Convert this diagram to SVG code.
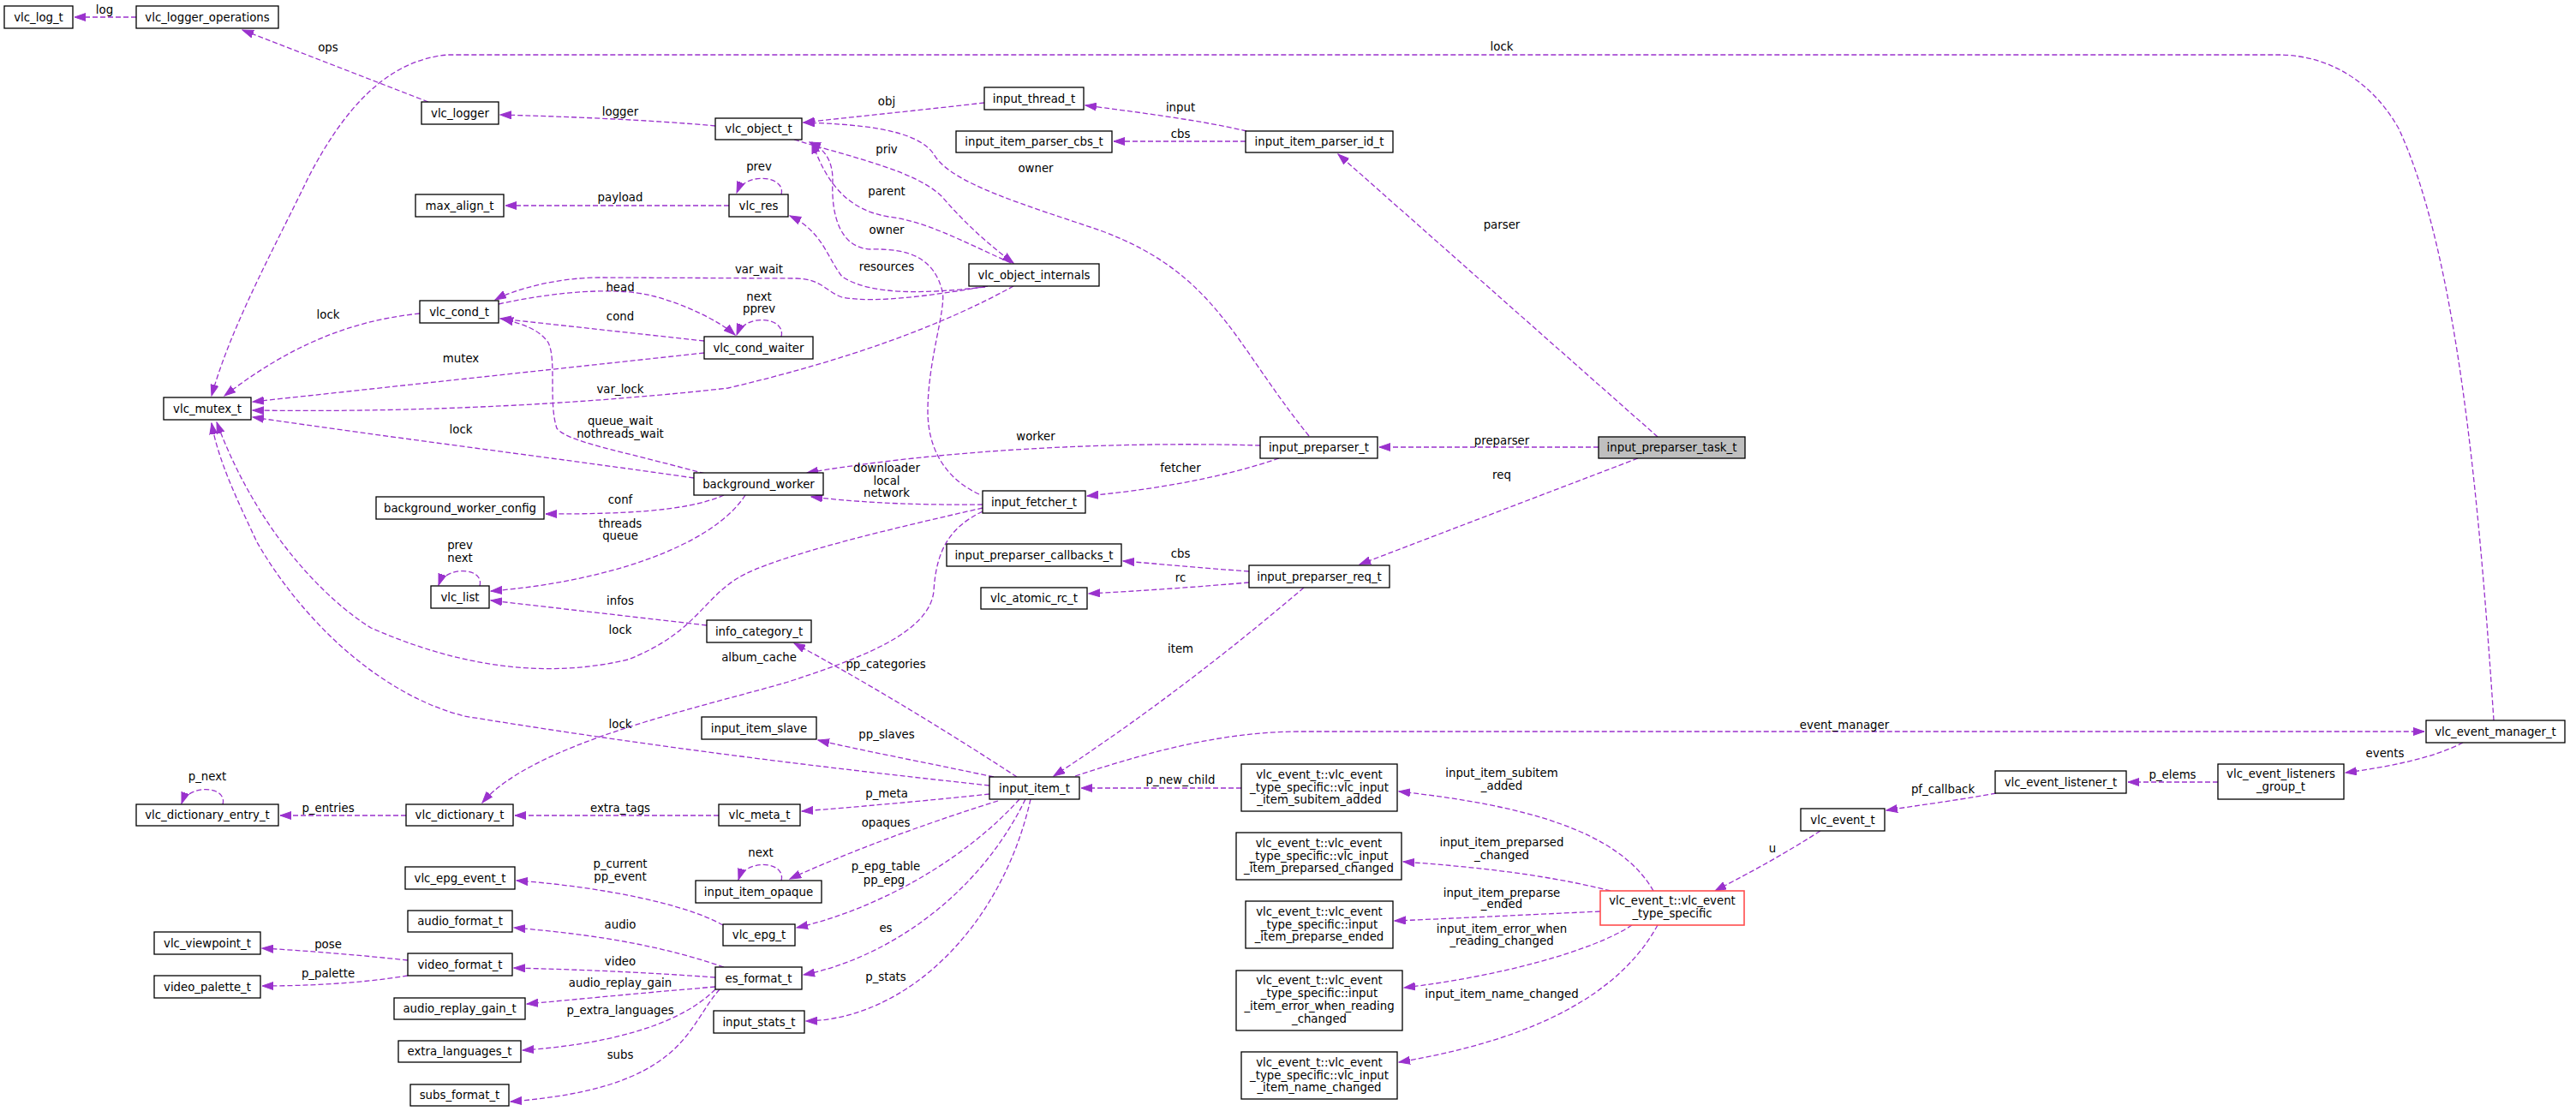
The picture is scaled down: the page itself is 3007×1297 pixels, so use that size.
<svg xmlns="http://www.w3.org/2000/svg" width="3007" height="1297" viewBox="0 0 3007 1297">
<style>
.n rect{fill:#fff;stroke:#000;stroke-width:1.3}
.n text,.l{font-family:"DejaVu Sans",sans-serif;font-size:13.3px;fill:#000;text-anchor:middle}
#edges path{fill:none;stroke:#9a32cd;stroke-width:1.3;stroke-dasharray:6,3;marker-end:url(#a)}
</style>
<defs><marker id="a" markerUnits="userSpaceOnUse" markerWidth="14" markerHeight="10" refX="13" refY="5" orient="auto"><path d="M0,0.5 L13,5 L0,9.5 z" fill="#9a32cd" stroke="#9a32cd"/></marker></defs>
<rect width="3007" height="1297" fill="#fff"/>
<g id="edges">
<path d="M159,20 L87,20"/>
<path d="M500,119 L283,35"/>
<path d="M835,147 C760,140 660,136 584,134"/>
<path d="M851,240 L590,240"/>
<path d="M912,227 C918,205 870,200 860,225"/>
<path d="M1153,334 C1100,343 1023,355 983,347 C963,340 960,326 930,325 L700,324 C650,324 600,338 578,350"/>
<path d="M582,355 C650,340 720,335 760,345 C800,355 840,375 858,391"/>
<path d="M912,393 C918,370 870,365 860,391"/>
<path d="M822,398 L584,372"/>
<path d="M490,366 C400,375 330,410 262,462"/>
<path d="M822,412 L295,469"/>
<path d="M1183,334 C1100,380 990,420 850,453 C700,470 500,482 295,479"/>
<path d="M810,558 C650,535 450,510 295,487"/>
<path d="M823,553 C720,525 663,516 650,500 C640,470 650,420 640,400 C630,385 610,378 586,372"/>
<path d="M845,578 C800,598 720,600 637,600"/>
<path d="M870,578 C830,640 700,680 573,690"/>
<path d="M2911,841 C2895,600 2870,300 2800,150 C2760,80 2700,64 2660,64 L523,64 C450,70 400,130 360,207 C320,290 270,380 247,462"/>
<path d="M1149,120 C1080,128 1000,136 938,143"/>
<path d="M1455,153 C1400,140 1320,130 1267,123"/>
<path d="M1454,165 L1300,165"/>
<path d="M1528,509 C1440,400 1420,320 1287,270 C1200,240 1110,215 1090,180 C1070,150 1000,145 938,143"/>
<path d="M1935,510 L1562,180"/>
<path d="M927,163 C1000,185 1070,200 1100,230 C1130,265 1160,290 1183,307"/>
<path d="M1180,307 C1120,280 1080,258 1037,253 C990,245 965,215 948,166"/>
<path d="M1143,577 C1100,557 1083,520 1083,480 C1083,420 1105,360 1100,340 C1090,300 1060,290 1017,291 C980,290 970,250 972,210 C972,185 960,172 945,166"/>
<path d="M1150,335 C1080,343 1017,345 983,323 C965,300 960,270 922,252"/>
<path d="M1471,520 C1300,515 1100,525 942,552"/>
<path d="M1147,589 C1050,590 990,585 947,580"/>
<path d="M1493,535 C1420,560 1340,572 1269,579"/>
<path d="M1866,522 L1610,522"/>
<path d="M1912,535 L1587,659"/>
<path d="M1147,593 C1050,615 900,650 861,675 C820,700 810,740 733,770 C640,792 540,780 433,733 C380,700 300,620 253,493"/>
<path d="M1155,917 C950,895 750,870 542,836 C440,810 350,720 300,633 C280,590 255,540 247,494"/>
<path d="M1147,597 C1110,615 1093,640 1090,690 C1085,740 1000,770 917,797 C800,830 620,870 563,937"/>
<path d="M825,730 L573,701"/>
<path d="M560,684 C566,662 520,660 512,683"/>
<path d="M1187,907 C1100,850 1000,790 927,751"/>
<path d="M1160,907 C1080,890 1000,875 955,864"/>
<path d="M1155,927 C1080,935 1000,942 936,947"/>
<path d="M1165,935 C1100,955 1000,990 922,1026"/>
<path d="M1190,933 C1130,1000 1030,1060 930,1083"/>
<path d="M1197,933 C1140,1050 1030,1120 938,1138"/>
<path d="M1203,933 C1170,1080 1060,1190 941,1192"/>
<path d="M912,1028 C918,1005 870,1002 862,1027"/>
<path d="M1522,686 C1400,790 1300,860 1230,906"/>
<path d="M1458,667 C1400,663 1350,658 1311,655"/>
<path d="M1458,680 C1400,685 1330,690 1271,693"/>
<path d="M1449,920 L1262,920"/>
<path d="M1255,906 C1350,875 1430,854 1520,854 L2830,854"/>
<path d="M2875,867 C2840,885 2790,895 2738,902"/>
<path d="M2589,913 L2484,913"/>
<path d="M2330,926 C2280,935 2240,940 2202,946"/>
<path d="M2125,970 C2070,1005 2030,1025 2002,1040"/>
<path d="M1930,1040 C1890,970 1780,940 1633,924"/>
<path d="M1880,1040 C1800,1020 1720,1012 1638,1006"/>
<path d="M1868,1064 C1780,1068 1700,1072 1628,1075"/>
<path d="M1905,1080 C1860,1110 1750,1140 1639,1153"/>
<path d="M1935,1080 C1880,1180 1750,1220 1633,1240"/>
<path d="M474,952 L327,952"/>
<path d="M260,939 C266,917 220,915 212,938"/>
<path d="M839,952 L601,952"/>
<path d="M844,1080 C800,1055 700,1035 603,1028"/>
<path d="M845,1129 C760,1100 680,1090 600,1083"/>
<path d="M835,1141 C750,1135 680,1132 600,1130"/>
<path d="M835,1152 C740,1160 680,1166 615,1172"/>
<path d="M835,1155 C790,1200 700,1220 610,1226"/>
<path d="M840,1155 C800,1200 800,1270 596,1286"/>
<path d="M476,1121 C420,1115 360,1110 306,1107"/>
<path d="M476,1139 C420,1148 360,1151 306,1151"/>
</g>
<g id="labels">
<text class="l" x="122" y="16">log</text>
<text class="l" x="383" y="60">ops</text>
<text class="l" x="724" y="135">logger</text>
<text class="l" x="724" y="235">payload</text>
<text class="l" x="886" y="199">prev</text>
<text class="l" x="886" y="319">var_wait</text>
<text class="l" x="724" y="340">head</text>
<text class="l" x="886" y="351">next</text>
<text class="l" x="886" y="365">pprev</text>
<text class="l" x="724" y="374">cond</text>
<text class="l" x="383" y="372">lock</text>
<text class="l" x="538" y="423">mutex</text>
<text class="l" x="724" y="459">var_lock</text>
<text class="l" x="538" y="506">lock</text>
<text class="l" x="724" y="496">queue_wait</text>
<text class="l" x="724" y="511">nothreads_wait</text>
<text class="l" x="724" y="588">conf</text>
<text class="l" x="724" y="616">threads</text>
<text class="l" x="724" y="630">queue</text>
<text class="l" x="1753" y="59">lock</text>
<text class="l" x="1035" y="123">obj</text>
<text class="l" x="1378" y="130">input</text>
<text class="l" x="1378" y="161">cbs</text>
<text class="l" x="1209" y="201">owner</text>
<text class="l" x="1753" y="267">parser</text>
<text class="l" x="1035" y="179">priv</text>
<text class="l" x="1035" y="228">parent</text>
<text class="l" x="1035" y="273">owner</text>
<text class="l" x="1035" y="316">resources</text>
<text class="l" x="1209" y="514">worker</text>
<text class="l" x="1035" y="551">downloader</text>
<text class="l" x="1035" y="566">local</text>
<text class="l" x="1035" y="580">network</text>
<text class="l" x="1378" y="551">fetcher</text>
<text class="l" x="1753" y="519">preparser</text>
<text class="l" x="1753" y="559">req</text>
<text class="l" x="724" y="740">lock</text>
<text class="l" x="724" y="850">lock</text>
<text class="l" x="886" y="772">album_cache</text>
<text class="l" x="724" y="706">infos</text>
<text class="l" x="537" y="641">prev</text>
<text class="l" x="537" y="656">next</text>
<text class="l" x="1034" y="780">pp_categories</text>
<text class="l" x="1035" y="862">pp_slaves</text>
<text class="l" x="1035" y="931">p_meta</text>
<text class="l" x="1034" y="965">opaques</text>
<text class="l" x="1034" y="1016">p_epg_table</text>
<text class="l" x="1032" y="1032">pp_epg</text>
<text class="l" x="1034" y="1088">es</text>
<text class="l" x="1034" y="1145">p_stats</text>
<text class="l" x="888" y="1000">next</text>
<text class="l" x="1378" y="762">item</text>
<text class="l" x="1378" y="651">cbs</text>
<text class="l" x="1378" y="679">rc</text>
<text class="l" x="1378" y="915">p_new_child</text>
<text class="l" x="2153" y="851">event_manager</text>
<text class="l" x="2784" y="884">events</text>
<text class="l" x="2536" y="909">p_elems</text>
<text class="l" x="2268" y="926">pf_callback</text>
<text class="l" x="2069" y="995">u</text>
<text class="l" x="1753" y="907">input_item_subitem</text>
<text class="l" x="1753" y="922">_added</text>
<text class="l" x="1753" y="988">input_item_preparsed</text>
<text class="l" x="1753" y="1003">_changed</text>
<text class="l" x="1753" y="1047">input_item_preparse</text>
<text class="l" x="1753" y="1060">_ended</text>
<text class="l" x="1753" y="1089">input_item_error_when</text>
<text class="l" x="1753" y="1103">_reading_changed</text>
<text class="l" x="1753" y="1165">input_item_name_changed</text>
<text class="l" x="383" y="948">p_entries</text>
<text class="l" x="242" y="911">p_next</text>
<text class="l" x="724" y="948">extra_tags</text>
<text class="l" x="724" y="1013">p_current</text>
<text class="l" x="724" y="1028">pp_event</text>
<text class="l" x="724" y="1084">audio</text>
<text class="l" x="724" y="1127">video</text>
<text class="l" x="724" y="1152">audio_replay_gain</text>
<text class="l" x="724" y="1184">p_extra_languages</text>
<text class="l" x="724" y="1236">subs</text>
<text class="l" x="383" y="1107">pose</text>
<text class="l" x="383" y="1141">p_palette</text>
</g>
<g id="vlc_log_t" class="n"><rect x="5" y="7" width="80" height="26"/><text x="45" y="24.5">vlc_log_t</text></g>
<g id="vlc_logger_operations" class="n"><rect x="159" y="7" width="166" height="26"/><text x="242" y="24.5">vlc_logger_operations</text></g>
<g id="vlc_logger" class="n"><rect x="492" y="119" width="90" height="26"/><text x="537" y="136.5">vlc_logger</text></g>
<g id="vlc_object_t" class="n"><rect x="835" y="138" width="101" height="25"/><text x="885.5" y="155">vlc_object_t</text></g>
<g id="max_align_t" class="n"><rect x="485" y="227" width="103" height="26"/><text x="536.5" y="244.5">max_align_t</text></g>
<g id="vlc_res" class="n"><rect x="851" y="227" width="69" height="26"/><text x="885.5" y="244.5">vlc_res</text></g>
<g id="vlc_cond_t" class="n"><rect x="490" y="351" width="92" height="26"/><text x="536" y="368.5">vlc_cond_t</text></g>
<g id="vlc_cond_waiter" class="n"><rect x="822" y="393" width="127" height="26"/><text x="885.5" y="410.5">vlc_cond_waiter</text></g>
<g id="vlc_mutex_t" class="n"><rect x="191" y="464" width="102" height="26"/><text x="242" y="481.5">vlc_mutex_t</text></g>
<g id="background_worker" class="n"><rect x="810" y="552" width="151" height="26"/><text x="885.5" y="569.5">background_worker</text></g>
<g id="background_worker_config" class="n"><rect x="439" y="580" width="196" height="26"/><text x="537" y="597.5">background_worker_config</text></g>
<g id="input_thread_t" class="n"><rect x="1149" y="102" width="116" height="26"/><text x="1207" y="119.5">input_thread_t</text></g>
<g id="input_item_parser_cbs_t" class="n"><rect x="1116" y="153" width="182" height="25"/><text x="1207" y="170">input_item_parser_cbs_t</text></g>
<g id="input_item_parser_id_t" class="n"><rect x="1454" y="153" width="172" height="25"/><text x="1540" y="170">input_item_parser_id_t</text></g>
<g id="vlc_object_internals" class="n"><rect x="1131" y="308" width="152" height="26"/><text x="1207" y="325.5">vlc_object_internals</text></g>
<g id="input_preparser_t" class="n"><rect x="1471" y="510" width="137" height="25"/><text x="1539.5" y="527">input_preparser_t</text></g>
<g id="input_preparser_task_t" class="n"><rect x="1866" y="510" width="171" height="25" style="fill:#bfbfbf"/><text x="1951.5" y="527">input_preparser_task_t</text></g>
<g id="input_fetcher_t" class="n"><rect x="1147" y="573" width="120" height="26"/><text x="1207" y="590.5">input_fetcher_t</text></g>
<g id="input_preparser_callbacks_t" class="n"><rect x="1105" y="635" width="204" height="26"/><text x="1207" y="652.5">input_preparser_callbacks_t</text></g>
<g id="input_preparser_req_t" class="n"><rect x="1458" y="660" width="164" height="26"/><text x="1540" y="677.5">input_preparser_req_t</text></g>
<g id="vlc_atomic_rc_t" class="n"><rect x="1145" y="686" width="124" height="25"/><text x="1207" y="703">vlc_atomic_rc_t</text></g>
<g id="vlc_list" class="n"><rect x="503" y="684" width="68" height="26"/><text x="537" y="701.5">vlc_list</text></g>
<g id="info_category_t" class="n"><rect x="825" y="724" width="122" height="26"/><text x="886" y="741.5">info_category_t</text></g>
<g id="input_item_slave" class="n"><rect x="819" y="837" width="134" height="26"/><text x="886" y="854.5">input_item_slave</text></g>
<g id="input_item_t" class="n"><rect x="1155" y="907" width="105" height="26"/><text x="1207.5" y="924.5">input_item_t</text></g>
<g id="vlc_dictionary_entry_t" class="n"><rect x="159" y="939" width="166" height="25"/><text x="242" y="956">vlc_dictionary_entry_t</text></g>
<g id="vlc_dictionary_t" class="n"><rect x="474" y="939" width="125" height="25"/><text x="536.5" y="956">vlc_dictionary_t</text></g>
<g id="vlc_meta_t" class="n"><rect x="839" y="939" width="95" height="25"/><text x="886.5" y="956">vlc_meta_t</text></g>
<g id="vlc_epg_event_t" class="n"><rect x="473" y="1012" width="128" height="26"/><text x="537" y="1029.5">vlc_epg_event_t</text></g>
<g id="input_item_opaque" class="n"><rect x="812" y="1028" width="147" height="26"/><text x="885.5" y="1045.5">input_item_opaque</text></g>
<g id="audio_format_t" class="n"><rect x="476" y="1063" width="122" height="25"/><text x="537" y="1080">audio_format_t</text></g>
<g id="vlc_viewpoint_t" class="n"><rect x="180" y="1088" width="124" height="26"/><text x="242" y="1105.5">vlc_viewpoint_t</text></g>
<g id="vlc_epg_t" class="n"><rect x="844" y="1079" width="84" height="25"/><text x="886" y="1096">vlc_epg_t</text></g>
<g id="video_format_t" class="n"><rect x="476" y="1113" width="122" height="26"/><text x="537" y="1130.5">video_format_t</text></g>
<g id="es_format_t" class="n"><rect x="835" y="1129" width="101" height="26"/><text x="885.5" y="1146.5">es_format_t</text></g>
<g id="video_palette_t" class="n"><rect x="180" y="1139" width="124" height="26"/><text x="242" y="1156.5">video_palette_t</text></g>
<g id="audio_replay_gain_t" class="n"><rect x="460" y="1165" width="153" height="25"/><text x="536.5" y="1182">audio_replay_gain_t</text></g>
<g id="input_stats_t" class="n"><rect x="833" y="1180" width="106" height="26"/><text x="886" y="1197.5">input_stats_t</text></g>
<g id="extra_languages_t" class="n"><rect x="465" y="1215" width="143" height="25"/><text x="536.5" y="1232">extra_languages_t</text></g>
<g id="subs_format_t" class="n"><rect x="479" y="1266" width="115" height="25"/><text x="536.5" y="1283">subs_format_t</text></g>
<g id="subitem_added" class="n"><rect x="1449" y="892" width="182" height="55"/><text x="1540" y="909">vlc_event_t::vlc_event</text><text x="1540" y="923.5">_type_specific::vlc_input</text><text x="1540" y="938">_item_subitem_added</text></g>
<g id="preparsed_changed" class="n"><rect x="1443" y="972" width="193" height="55"/><text x="1539.5" y="989">vlc_event_t::vlc_event</text><text x="1539.5" y="1003.5">_type_specific::vlc_input</text><text x="1539.5" y="1018">_item_preparsed_changed</text></g>
<g id="preparse_ended" class="n"><rect x="1454" y="1052" width="172" height="55"/><text x="1540" y="1069">vlc_event_t::vlc_event</text><text x="1540" y="1083.5">_type_specific::input</text><text x="1540" y="1098">_item_preparse_ended</text></g>
<g id="error_when_reading" class="n"><rect x="1443" y="1133" width="194" height="70"/><text x="1540" y="1149">vlc_event_t::vlc_event</text><text x="1540" y="1164">_type_specific::input</text><text x="1540" y="1179">_item_error_when_reading</text><text x="1540" y="1194">_changed</text></g>
<g id="name_changed" class="n"><rect x="1449" y="1228" width="182" height="55"/><text x="1540" y="1245">vlc_event_t::vlc_event</text><text x="1540" y="1259.5">_type_specific::vlc_input</text><text x="1540" y="1274">_item_name_changed</text></g>
<g id="vlc_event_type_specific" class="n"><rect x="1868" y="1040" width="168" height="40" style="stroke:#ff4d4d;stroke-width:1.6"/><text x="1952" y="1056">vlc_event_t::vlc_event</text><text x="1952" y="1071">_type_specific</text></g>
<g id="vlc_event_manager_t" class="n"><rect x="2832" y="841" width="162" height="26"/><text x="2913" y="858.5">vlc_event_manager_t</text></g>
<g id="vlc_event_listeners_group_t" class="n"><rect x="2589" y="892" width="147" height="41"/><text x="2662.5" y="908">vlc_event_listeners</text><text x="2662.5" y="923">_group_t</text></g>
<g id="vlc_event_listener_t" class="n"><rect x="2329" y="900" width="153" height="26"/><text x="2405.5" y="917.5">vlc_event_listener_t</text></g>
<g id="vlc_event_t" class="n"><rect x="2102" y="944" width="98" height="26"/><text x="2151" y="961.5">vlc_event_t</text></g>
</svg>
